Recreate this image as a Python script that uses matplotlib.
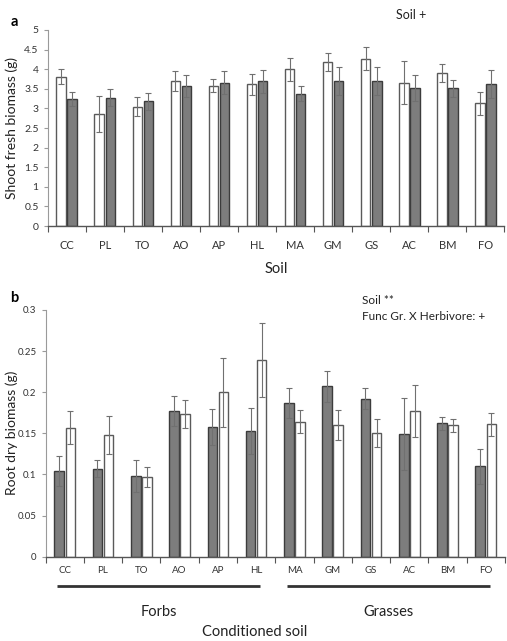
import numpy as np
import matplotlib
matplotlib.use("Agg")
import matplotlib.pyplot as plt
from matplotlib.transforms import blended_transform_factory

# --- data ---
soils = ["CC", "PL", "TO", "AO", "AP", "HL", "MA", "GM", "GS", "AC", "BM", "FO"]

# panel a: shoot fresh biomass, white bar first, grey bar second
shoot_white = [3.81, 2.86, 3.04, 3.70, 3.58, 3.62, 4.00, 4.18, 4.27, 3.66, 3.90, 3.13]
shoot_white_err = [0.19, 0.45, 0.24, 0.25, 0.16, 0.27, 0.29, 0.23, 0.30, 0.56, 0.22, 0.30]
shoot_grey = [3.24, 3.27, 3.18, 3.57, 3.66, 3.69, 3.37, 3.70, 3.70, 3.52, 3.51, 3.63]
shoot_grey_err = [0.19, 0.22, 0.22, 0.27, 0.30, 0.30, 0.19, 0.35, 0.36, 0.34, 0.22, 0.36]

# panel b: root dry biomass, grey bar first, white bar second
root_grey = [0.104, 0.107, 0.098, 0.177, 0.158, 0.153, 0.187, 0.207, 0.192, 0.149, 0.162, 0.110]
root_grey_err = [0.018, 0.010, 0.019, 0.018, 0.022, 0.028, 0.018, 0.019, 0.013, 0.044, 0.008, 0.021]
root_white = [0.157, 0.148, 0.097, 0.174, 0.200, 0.239, 0.164, 0.160, 0.151, 0.177, 0.160, 0.161]
root_white_err = [0.020, 0.023, 0.012, 0.017, 0.042, 0.045, 0.014, 0.018, 0.017, 0.032, 0.008, 0.014]

groups = ["Forbs", "Grasses"]
group_members = [soils[:6], soils[6:]]

# --- style ---
plt.rcParams['font.family'] = ['Lato', 'DejaVu Sans']
GREY = '#7d7d7d'
GREY_EDGE = '#3c3c3c'
WHITE_EDGE = '#5a5a5a'
ERR = '#707070'
TXT = '#222222'
W = 0.25
OFF = 0.145

fig = plt.figure(figsize=(5.07, 6.41), dpi=100)
ax_a = fig.add_axes([0.094, 0.6474, 0.901, 0.3058])
ax_b = fig.add_axes([0.090, 0.1315, 0.906, 0.3849])

x = np.arange(len(soils))


def px(xp, yp):
    # reference pixel position -> figure fraction
    return xp / 507, 1 - yp / 641


def style_axis(ax, ymax, ystep, fmt, xsize, ysize, pad):
    ax.set_xlim(-0.5, len(soils) - 0.5)
    ax.set_ylim(0, ymax)
    ticks = np.arange(0, ymax + ystep / 2, ystep)
    ax.set_yticks(ticks)
    ax.set_yticklabels([fmt(v) for v in ticks])
    ax.spines['top'].set_visible(False)
    ax.spines['right'].set_visible(False)
    ax.spines['left'].set_color('#9a9a9a')
    ax.spines['bottom'].set_color('#555555')
    ax.spines['left'].set_linewidth(0.8)
    ax.spines['bottom'].set_linewidth(1.0)
    # x ticks at category boundaries, labels centred on categories
    ax.set_xticks(np.arange(-0.5, len(soils)), minor=False)
    ax.set_xticklabels([])
    ax.set_xticks(x, minor=True)
    ax.set_xticklabels(soils, minor=True)
    ax.tick_params(axis='x', which='major', length=4, direction='out', color='#555555')
    ax.tick_params(axis='x', which='minor', length=0, labelsize=xsize, colors='#333333', pad=pad)
    ax.tick_params(axis='y', length=3, color='#9a9a9a', labelsize=ysize, labelcolor='#333333')


def bars(ax, xs, vals, errs, face, edge):
    ax.bar(xs, vals, W, color=face, edgecolor=edge, linewidth=1.0, zorder=2)
    ax.errorbar(xs, vals, yerr=errs, fmt='none', ecolor=ERR, elinewidth=0.8,
                capsize=2, capthick=0.8, zorder=3)


# --- panel a ---
bars(ax_a, x - OFF, shoot_white, shoot_white_err, 'white', WHITE_EDGE)
bars(ax_a, x + OFF, shoot_grey, shoot_grey_err, GREY, GREY_EDGE)
style_axis(ax_a, 5, 0.5, lambda v: f"{v:g}", 8, 7.5, 10)
fig.text(*px(12, 128), "Shoot fresh biomass (g)", rotation=90, fontsize=10,
         ha='center', va='center', color=TXT)
fig.text(*px(276, 269), "Soil", fontsize=10.5, ha='center', va='center', color=TXT)
fig.text(*px(14, 22), "a", fontsize=10.5, fontweight='bold', va='center', ha='center')
fig.text(*px(411, 15), "Soil +", fontsize=9, va='center', ha='center', color=TXT)

# --- panel b ---
bars(ax_b, x - OFF, root_grey, root_grey_err, GREY, GREY_EDGE)
bars(ax_b, x + OFF, root_white, root_white_err, 'white', WHITE_EDGE)
style_axis(ax_b, 0.3, 0.05, lambda v: f"{v:.2f}".rstrip('0').rstrip('.') if v else "0",
           7, 7, 7)
fig.text(*px(12, 433), "Root dry biomass (g)", rotation=90, fontsize=10,
         ha='center', va='center', color=TXT)
fig.text(*px(14, 298), "b", fontsize=10.5, fontweight='bold', va='center', ha='center')
fig.text(*px(362, 300), "Soil **", fontsize=8.5, va='center', ha='left', color=TXT)
fig.text(*px(362, 317), "Func Gr. X Herbivore: +", fontsize=8.5, va='center',
         ha='left', color=TXT)

# group brackets under the x axis
trans = blended_transform_factory(ax_b.transData, fig.transFigure)
for name, members in zip(groups, group_members):
    i0 = soils.index(members[0])
    i1 = soils.index(members[-1])
    ax_b.plot([i0 - 0.2, i1 + 0.1], [1 - 585.7 / 641] * 2, color='#333333', lw=2,
              transform=trans, clip_on=False, solid_capstyle='butt')
    ax_b.text((i0 + i1) / 2 - 0.05, 1 - 611.7 / 641, name, transform=trans, fontsize=10.5,
              ha='center', va='center', color=TXT)

fig.text(*px(255, 632), "Conditioned soil", fontsize=10.5, ha='center',
         va='center', color=TXT)

fig.savefig("out.png", dpi=100)
